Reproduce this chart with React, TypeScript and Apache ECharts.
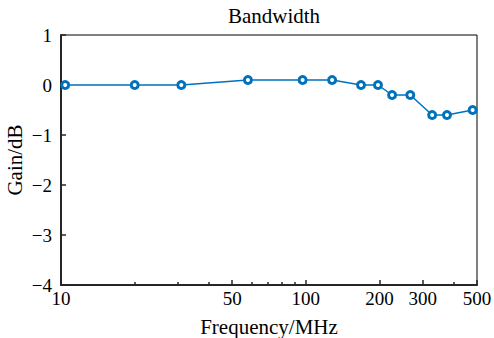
import React, { useEffect, useRef } from 'react';
import * as echarts from 'echarts';

const freqMHz = [10.4, 20, 31, 58, 97, 128, 168, 197, 225, 267, 328, 377, 480];
const gainDb = [0, 0, 0, 0.1, 0.1, 0.1, 0, 0, -0.2, -0.2, -0.6, -0.6, -0.5];
const xMajorTicks = [10, 50, 100, 200, 300, 500];
const xMinorTicks = [20, 30, 40, 60, 70, 80, 90, 400];
const xMin = 10;
const xMax = 500;
const yMin = -4;
const yMax = 1;

const FONT = "'Liberation Serif', 'Times New Roman', serif";
const BLUE = '#0072BD';

const lg = (v: number) => Math.log10(v);

export default function App() {
  const ref = useRef<HTMLDivElement>(null);
  useEffect(() => {
    if (!ref.current) return;
    const chart = echarts.init(ref.current, undefined, { renderer: 'svg' });
    const gridPos = { left: 61, right: 17, top: 35, bottom: 53, containLabel: false, outerBoundsMode: 'none' };
    chart.setOption({
      animation: false,
      backgroundColor: '#fff',
      title: {
        text: 'Bandwidth',
        left: 269,
        textAlign: 'center',
        top: 0,
        textStyle: { fontFamily: FONT, fontSize: 21, fontWeight: 'normal', color: '#000' },
      },
      grid: [
        { ...gridPos, show: true, borderColor: '#000', borderWidth: 1, backgroundColor: 'transparent' },
        { ...gridPos, show: false },
      ],
      xAxis: [
        {
          type: 'value',
          gridIndex: 0,
          min: lg(xMin),
          max: lg(xMax),
          name: 'Frequency/MHz',
          nameLocation: 'middle',
          nameGap: 31,
          nameMoveOverlap: false,
          nameTextStyle: { fontFamily: FONT, fontSize: 21, color: '#000' },
          axisLine: { show: true, onZero: false, lineStyle: { color: '#262626', width: 2 } },
          axisTick: {
            show: true,
            inside: true,
            length: 5,
            customValues: xMajorTicks.map(lg),
            lineStyle: { color: '#262626', width: 1.5 },
          },
          axisLabel: {
            show: true,
            customValues: xMajorTicks.map(lg),
            formatter: (v: number) => String(Math.round(Math.pow(10, v))),
            fontFamily: FONT,
            fontSize: 19,
            color: '#000',
            margin: 4,
            showMinLabel: true,
            showMaxLabel: true,
          },
          splitLine: { show: false },
        },
        {
          type: 'value',
          gridIndex: 1,
          min: lg(xMin),
          max: lg(xMax),
          axisLine: { show: false, onZero: false },
          axisTick: {
            show: true,
            inside: true,
            length: 3,
            customValues: xMinorTicks.map(lg),
            lineStyle: { color: '#262626', width: 1.5 },
          },
          axisLabel: { show: false },
          splitLine: { show: false },
        },
      ],
      yAxis: [
        {
          type: 'value',
          gridIndex: 0,
          min: yMin,
          max: yMax,
          interval: 1,
          name: 'Gain/dB',
          nameLocation: 'middle',
          nameGap: 36,
          nameMoveOverlap: false,
          nameTextStyle: { fontFamily: FONT, fontSize: 21, color: '#000' },
          axisLine: { show: true, onZero: false, lineStyle: { color: '#262626', width: 2 } },
          axisTick: { show: true, inside: true, length: 5, lineStyle: { color: '#262626', width: 1.5 } },
          axisLabel: {
            fontFamily: FONT,
            fontSize: 19,
            color: '#000',
            margin: 9,
            formatter: (v: number) => (v < 0 ? '\u2212' + Math.abs(v) : String(v)),
          },
          splitLine: { show: false },
        },
        {
          type: 'value',
          gridIndex: 1,
          min: yMin,
          max: yMax,
          show: false,
        },
      ],
      series: [
        {
          type: 'line',
          xAxisIndex: 0,
          yAxisIndex: 0,
          data: freqMHz.map((f, i) => [lg(f), gainDb[i]]),
          symbol: 'circle',
          symbolSize: 7,
          showAllSymbol: true,
          lineStyle: { color: BLUE, width: 1.5 },
          itemStyle: { color: '#fff', borderColor: BLUE, borderWidth: 3 },
          clip: false,
        },
      ],
    });
    return () => chart.dispose();
  }, []);
  return <div ref={ref} style={{ width: 494, height: 338, position: 'absolute', left: 0, top: 0 }} />;
}
